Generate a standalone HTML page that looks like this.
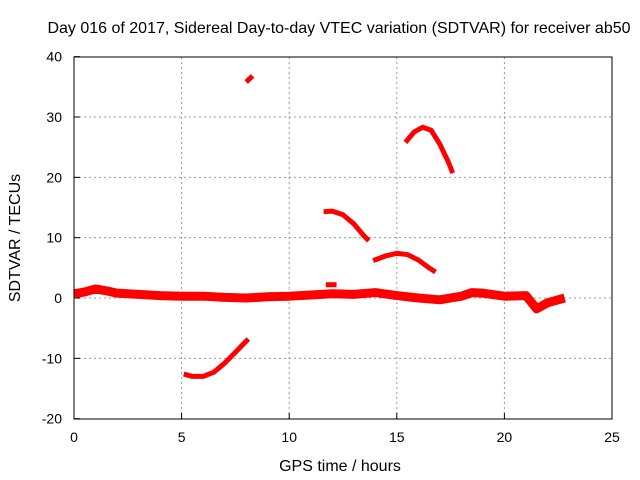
<!DOCTYPE html>
<html><head><meta charset="utf-8"><style>body{margin:0;background:#fff}svg{display:block;font-family:"Liberation Sans",sans-serif}</style></head>
<body>
<svg id="c" width="640" height="480">
<text x="339" y="33" text-anchor="middle" font-size="16">Day 016 of 2017, Sidereal Day-to-day VTEC variation (SDTVAR) for receiver ab50</text>
<text x="340" y="471" text-anchor="middle" font-size="16">GPS time / hours</text>
<text transform="translate(20,238) rotate(-90)" text-anchor="middle" font-size="16">SDTVAR / TECUs</text>
<g id="grid"></g><g id="ticks"></g><g id="marks"></g>
<rect x="74" y="57" width="538" height="362" fill="none" stroke="#000"/>
</svg>
<script>
const xTicks=[0,5,10,15,20,25];
const yTicks=[-20,-10,0,10,20,30,40];
const baseline=[[0,0.7],[0.5,1.0],[1,1.5],[1.5,1.2],[2,0.8],[3,0.6],[4,0.4],[5,0.3],[6,0.3],[7,0.1],[8,0.0],[9,0.2],[10,0.3],[11,0.5],[12,0.7],[13,0.6],[14,0.9],[15,0.4],[16,0.0],[17,-0.3],[18,0.3],[18.5,0.9],[19,0.8],[20,0.3],[21,0.4],[21.5,-1.8],[22,-0.8],[22.8,0]];
const arcNeg=[[5.1,-12.6],[5.5,-13.0],[6,-13.0],[6.5,-12.3],[7,-10.8],[7.5,-9],[8.1,-6.8]];
const arcTop=[[8.0,35.8],[8.3,36.8]];
const arcA=[[11.6,14.3],[12,14.4],[12.5,13.8],[13,12.3],[13.5,10.2],[13.7,9.5]];
const arcB=[[13.9,6.2],[14.5,7.0],[15,7.4],[15.5,7.2],[16,6.3],[16.5,5],[16.8,4.3]];
const arcC=[[15.4,25.8],[15.8,27.5],[16.2,28.3],[16.6,27.8],[17,25.5],[17.4,22.5],[17.6,20.7]];
const blob=[[11.7,2.2],[12.2,2.2]];
const X=v=>74+v*538/25, Y=v=>298-v*362/60;
const NS="http://www.w3.org/2000/svg";
function mk(t,a,p){const e=document.createElementNS(NS,t);for(const k in a)e.setAttribute(k,a[k]);document.getElementById(p).appendChild(e);return e;}
xTicks.forEach(t=>{
 if(t>0&&t<25){const g=mk('line',{x1:X(t),x2:X(t),y1:57,y2:419,stroke:'#999','stroke-dasharray':'2,3'},'grid');
 
 }
 const l=mk('text',{x:X(t),y:442,'text-anchor':'middle','font-size':14},'ticks');l.textContent=t;
 
 
 mk('line',{x1:X(t),x2:X(t),y1:419,y2:413,stroke:'#000'},'ticks');
});
yTicks.forEach(t=>{
 if(t>-20&&t<40){const g=mk('line',{x1:74,x2:612,y1:Y(t),y2:Y(t),stroke:'#999','stroke-dasharray':'2,3'},'grid');
 
 }
 const l=mk('text',{x:62,y:Y(t)+5,'text-anchor':'end','font-size':14},'ticks');l.textContent=t;
 
 
 mk('line',{x1:74,x2:80,y1:Y(t),y2:Y(t),stroke:'#000'},'ticks');
});
[[baseline,'baseline-series',9],[arcNeg,'negative-arc-series',5],[arcTop,'top-arc-series',5],[arcA,'arc-a-series',5],[arcB,'arc-b-series',5],[arcC,'arc-c-series',5],[blob,'blob-series',5]].forEach(([d,n,w])=>{
 const p=mk('polyline',{points:d.map(q=>X(q[0])+','+Y(q[1])).join(' '),fill:'none',stroke:'#f00','stroke-width':w,'stroke-linejoin':'round'},'marks');
 
 
});
</script>
</body></html>
